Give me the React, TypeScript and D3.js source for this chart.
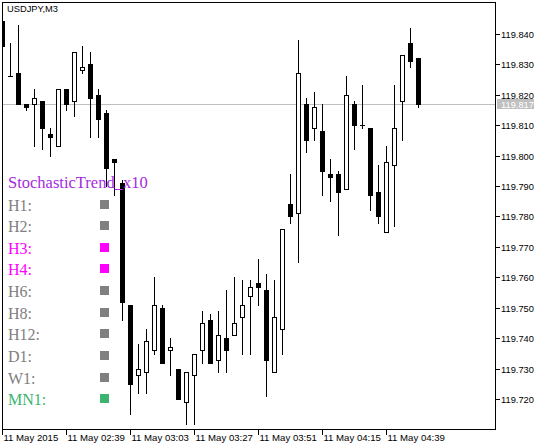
import React from "react";
import * as d3 from "d3";

const symbolLabel = "USDJPY,M3";

const open = [
  119.844, 119.826, 119.827, 119.817, 119.817, 119.818, 119.807, 119.803, 119.822, 119.818,
  119.828, 119.830, 119.820, 119.814, 119.799, 119.791, 119.751, 119.728, 119.729, 119.736,
  119.750, 119.736, 119.730, 119.719, 119.728, 119.736, 119.746, 119.733, 119.740, 119.741,
  119.747, 119.754, 119.758, 119.756, 119.729, 119.743, 119.784, 119.781, 119.817, 119.809,
  119.808, 119.794, 119.794, 119.789, 119.817, 119.810, 119.809, 119.788, 119.775, 119.797,
  119.818, 119.837, 119.832,
];
const high = [
  119.844, 119.837, 119.843, 119.817, 119.822, 119.818, 119.809, 119.822, 119.822, 119.834,
  119.836, 119.834, 119.822, 119.815, 119.799, 119.792, 119.751, 119.738, 119.743, 119.760,
  119.751, 119.740, 119.730, 119.729, 119.735, 119.749, 119.748, 119.749, 119.756, 119.760,
  119.759, 119.759, 119.766, 119.761, 119.759, 119.776, 119.794, 119.838, 119.819, 119.821,
  119.817, 119.799, 119.795, 119.826, 119.818, 119.823, 119.809, 119.797, 119.803, 119.823,
  119.833, 119.842, 119.832,
];
const low = [
  119.836, 119.826, 119.817, 119.815, 119.803, 119.802, 119.800, 119.803, 119.815, 119.813,
  119.827, 119.806, 119.806, 119.790, 119.787, 119.746, 119.715, 119.722, 119.722, 119.735,
  119.732, 119.728, 119.720, 119.712, 119.712, 119.732, 119.732, 119.729, 119.729, 119.741,
  119.735, 119.735, 119.751, 119.721, 119.729, 119.735, 119.778, 119.765, 119.801, 119.805,
  119.787, 119.785, 119.774, 119.789, 119.802, 119.809, 119.782, 119.778, 119.775, 119.777,
  119.805, 119.829, 119.816,
];
const close = [
  119.836, 119.826, 119.817, 119.816, 119.819, 119.809, 119.806, 119.822, 119.817, 119.834,
  119.829, 119.819, 119.812, 119.796, 119.798, 119.752, 119.725, 119.730, 119.739, 119.751,
  119.732, 119.737, 119.720, 119.729, 119.735, 119.745, 119.732, 119.741, 119.736, 119.745,
  119.751, 119.757, 119.757, 119.733, 119.747, 119.776, 119.780, 119.827, 119.805, 119.816,
  119.795, 119.793, 119.788, 119.820, 119.810, 119.810, 119.787, 119.780, 119.798, 119.809,
  119.833, 119.831, 119.817,
];

const priceTicks = [119.72, 119.73, 119.74, 119.75, 119.76, 119.77, 119.78, 119.79, 119.8, 119.81, 119.82, 119.83, 119.84];
const timeTickBars = [0, 8, 16, 24, 32, 40, 48];
const timeTickLabels = ["11 May 2015", "11 May 02:39", "11 May 03:03", "11 May 03:27", "11 May 03:51", "11 May 04:15", "11 May 04:39"];
const currentPrice = 119.817;

const legendTitle = "StochasticTrend_x10";
const legendLabels = ["H1:", "H2:", "H3:", "H4:", "H6:", "H8:", "H12:", "D1:", "W1:", "MN1:"];
const legendColors = ["#808080", "#808080", "#FF00FF", "#FF00FF", "#808080", "#808080", "#808080", "#808080", "#808080", "#3CB371"];

export default function App() {
  const W = 544, H = 447;
  const left = 2, right = 495, top = 2, bottom = 430;
  const x = d3.scaleLinear().domain([0, 52]).range([2.5, 418.5]);
  const y = d3.scaleLinear().domain([119.7099, 119.8504]).range([bottom, top]);
  const py = (v: number) => Math.round(y(v));
  const axisFont = "'Liberation Sans', Arial, sans-serif";
  const serif = "'Liberation Serif', 'Times New Roman', serif";

  const candles = open.map((o, i) => {
    const c = close[i];
    const cx = x(i);
    const px = Math.floor(cx);
    const yH = py(high[i]);
    const yL = py(low[i]);
    const yO = py(o);
    const yC = py(c);
    const t = Math.min(yO, yC);
    const b = Math.max(yO, yC);
    const bull = c > o;
    return (
      <g key={i}>
        <line x1={cx} x2={cx} y1={yH} y2={yL + 1} stroke="#000" strokeWidth={1} />
        {bull ? (
          <rect x={px - 2 + 0.5} y={t + 0.5} width={4} height={Math.max(b - t, 1)} fill="#fff" stroke="#000" strokeWidth={1} />
        ) : (
          <rect x={px - 2} y={t} width={5} height={Math.max(b - t, 0) + 1} fill="#000" />
        )}
      </g>
    );
  });

  const yCur = py(currentPrice) + 0.5;

  return (
    <svg width={W} height={H} style={{ position: "absolute", left: 0, top: 0, background: "#fff" }}>
      <defs>
        <clipPath id="plot">
          <rect x={left + 1} y={top + 1} width={right - left - 1} height={bottom - top - 1} />
        </clipPath>
      </defs>
      <rect x={0} y={0} width={W} height={H} fill="#fff" />
      <line x1={left} x2={right} y1={yCur} y2={yCur} stroke="#C0C0C0" strokeWidth={1} />
      <g clipPath="url(#plot)">{candles}</g>

      {/* frame */}
      <rect x={left + 0.5} y={top + 0.5} width={right - left} height={bottom - top - 1} fill="none" stroke="#000" strokeWidth={1} />

      {/* price axis */}
      {priceTicks.map((v) => {
        const yy = py(v) + 0.5;
        return (
          <g key={v}>
            <line x1={right + 1} x2={right + 5} y1={yy} y2={yy} stroke="#000" />
            <text x={right + 6} y={yy} dy="0.35em" fontFamily={axisFont} fontSize={9.3} fill="#000">
              {v.toFixed(3)}
            </text>
          </g>
        );
      })}
      <rect x={497} y={yCur - 5.5} width={37} height={10} fill="#C0C0C0" />
      <text x={right + 6} y={yCur} dy="0.35em" fontFamily={axisFont} fontSize={9.3} fill="#fff">
        {currentPrice.toFixed(3)}
      </text>

      {/* time axis */}
      {timeTickBars.map((b, k) => {
        const xx = x(b);
        return (
          <g key={b}>
            <line x1={xx} x2={xx} y1={bottom} y2={bottom + 5} stroke="#000" />
            <text x={xx + 1} y={441} fontFamily={axisFont} fontSize={9.6} fill="#000">
              {timeTickLabels[k]}
            </text>
          </g>
        );
      })}

      <text x={7} y={12} fontFamily={axisFont} fontSize={9.3} fill="#000">
        {symbolLabel}
      </text>

      {/* legend */}
      <text x={8} y={188} fontFamily={serif} fontSize={16.5} fill="#A42BE0">
        {legendTitle}
      </text>
      {legendLabels.map((lab, i) => {
        const base = 210.5 + i * 21.65;
        return (
          <g key={lab}>
            <text x={8} y={base} fontFamily={serif} fontSize={16} fill={legendColors[i]}>
              {lab}
            </text>
            <rect x={100} y={Math.round(base - 11)} width={9} height={9} fill={legendColors[i]} />
          </g>
        );
      })}
    </svg>
  );
}
